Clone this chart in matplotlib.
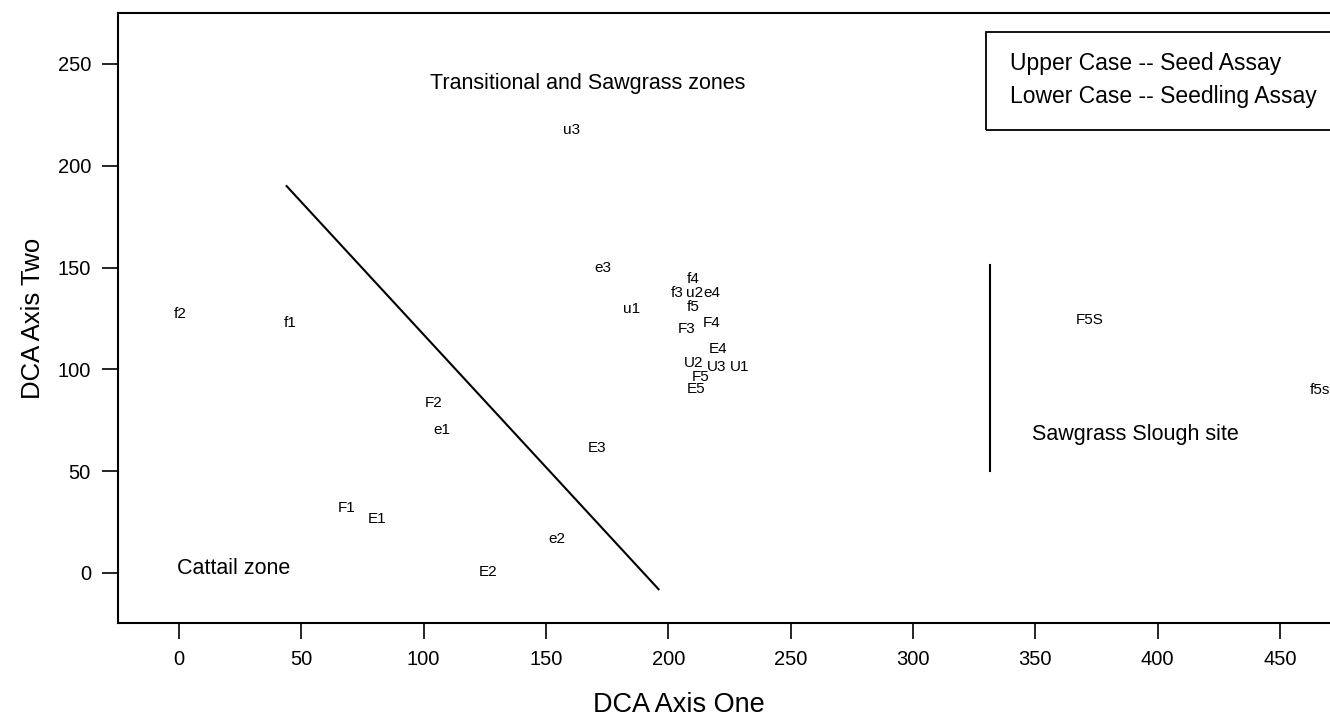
import matplotlib
matplotlib.use("Agg")
import matplotlib.pyplot as plt

plt.rcParams['font.family'] = ['Liberation Sans', 'DejaVu Sans']

# Sample labels and DCA scores
labels = ["u3", "e3", "f4", "f3", "u2", "e4", "f5", "u1", "F4", "F3", "E4",
          "U2", "U3", "U1", "F5", "E5", "f2", "f1", "F2", "e1", "F1", "E1",
          "E2", "e2", "E3", "F5S", "f5s"]
axis_one = [160.6, 173.2, 210.2, 203.7, 210.6, 217.6, 210.2, 185.0, 217.6, 207.4, 220.5,
            210.5, 219.7, 229.3, 213.4, 211.3, 0.4, 45.6, 103.9, 107.4, 68.5, 80.8,
            126.5, 154.5, 170.8, 372.3, 466.3]
axis_two = [217.6, 149.7, 144.2, 137.7, 137.7, 137.7, 130.5, 129.5, 122.9, 119.8, 110.0,
            103.0, 101.3, 101.3, 96.1, 90.2, 127.1, 122.6, 83.6, 70.2, 32.1, 26.5,
            0.3, 16.7, 61.4, 124.3, 89.9]

# Zone divider lines
diag_x = [44, 196]
diag_y = [190, -8]
vert_x = [331.5, 331.5]
vert_y = [50, 151]

x_ticks = [0, 50, 100, 150, 200, 250, 300, 350, 400, 450]
y_ticks = [0, 50, 100, 150, 200, 250]

fig = plt.figure(figsize=(13.3, 7.17), dpi=100)
ax = fig.add_axes([118/1330, 1-623/717, 1-118/1330, (623-13)/717])
ax.set_xlim(-24.9, 470.4)
ax.set_ylim(-24.6, 275)

for lab, x, y in zip(labels, axis_one, axis_two):
    ax.text(x, y, lab, ha='center', va='center', fontsize=11, clip_on=False)

ax.plot(diag_x, diag_y, color='black', lw=1.5)
ax.plot(vert_x, vert_y, color='black', lw=1.5)

ax.text(102.6, 240.2, "Transitional and Sawgrass zones", fontsize=15.5, ha='left', va='center')
ax.text(-0.9, 2.0, "Cattail zone", fontsize=15.5, ha='left', va='center')
ax.text(348.5, 67.8, "Sawgrass Slough site", fontsize=15.5, ha='left', va='center')

# Legend-like box
box = plt.Rectangle((329.8, 217.6), 200, 48.1, fill=False, edgecolor='black', lw=1.3, clip_on=False)
ax.add_patch(box)
ax.text(339.5, 250.0, "Upper Case -- Seed Assay", fontsize=16.5, ha='left', va='center')
ax.text(339.5, 234.0, "Lower Case -- Seedling Assay", fontsize=16.5, ha='left', va='center')

ax.set_xticks(x_ticks)
ax.set_yticks(y_ticks)
ax.tick_params(direction='out', length=11.5, width=1.2, labelsize=14.5, pad=8)
ax.spines['right'].set_visible(False)
for s in ['left', 'bottom', 'top']:
    ax.spines[s].set_linewidth(1.5)

ax.set_xlabel("DCA Axis One", fontsize=19.5)
ax.xaxis.set_label_coords((679 - 118) / 1212, -(705 - 623) / 610)
ax.xaxis.label.set_va('center')
ax.set_ylabel("DCA Axis Two", fontsize=18.5)
ax.yaxis.set_label_coords(-(118 - 33) / 1212, 0.5)
ax.yaxis.label.set_va('center')

fig.savefig("out.png", dpi=100)
